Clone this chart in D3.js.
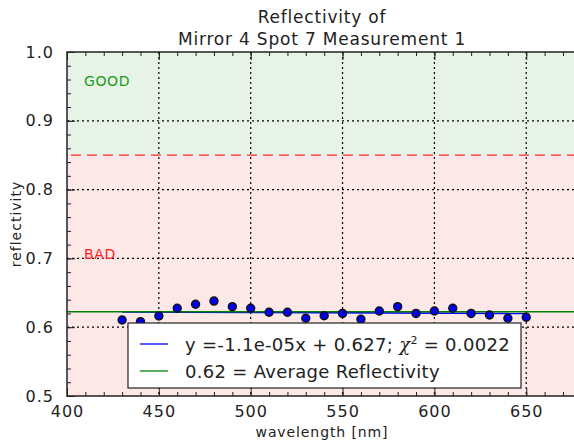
<!DOCTYPE html>
<html>
<head>
<meta charset="utf-8">
<script src="https://cdn.jsdelivr.net/npm/d3@7"></script>
<style>
  body { margin: 0; background: #fff; }
  svg text { font-family: "DejaVu Sans", sans-serif; fill: #222; }
</style>
</head>
<body>
<svg id="chart" width="574" height="441"></svg>
<script>
// measured reflectivity, one point every 10 nm
var wavelengths = [430, 440, 450, 460, 470, 480, 490, 500, 510, 520, 530, 540,
                   550, 560, 570, 580, 590, 600, 610, 620, 630, 640, 650];
var reflectivity = [0.6105, 0.608, 0.6163, 0.6275, 0.6333, 0.638, 0.6298, 0.6275,
                    0.6217, 0.6217, 0.613, 0.6167, 0.620, 0.6115, 0.6235, 0.6298,
                    0.620, 0.6235, 0.6275, 0.620, 0.6177, 0.613, 0.6144];
var fitSlope = -1.1e-05;
var fitIntercept = 0.627;
var averageRefl = 0.6224;
var goodThreshold = 0.85;
var xTicks = [400, 450, 500, 550, 600, 650];
var yTicks = [0.5, 0.6, 0.7, 0.8, 0.9, 1.0];

var svg = d3.select('#chart');
var pLeft = 67, pTop = 52, pRight = 574, pBottom = 396;

var x = d3.scaleLinear().domain([400, 676]).range([pLeft, pRight]);
var y = d3.scaleLinear().domain([0.5, 1.0]).range([pBottom, pTop]);

var plot = svg.append('g');

// GOOD / BAD bands
plot.append('rect')
    .attr('x', pLeft).attr('y', y(1.0))
    .attr('width', pRight - pLeft).attr('height', y(goodThreshold) - y(1.0))
    .attr('fill', '#e8f3e8');
plot.append('rect')
    .attr('x', pLeft).attr('y', y(goodThreshold))
    .attr('width', pRight - pLeft).attr('height', y(0.5) - y(goodThreshold))
    .attr('fill', '#fde8e8');

// dotted grid
plot.selectAll('line.gx')
    .data(xTicks.slice(1))
    .enter().append('line')
    .attr('class', 'gx')
    .attr('x1', function(d){return x(d);}).attr('x2', function(d){return x(d);})
    .attr('y1', pTop).attr('y2', pBottom)
    .attr('stroke', '#000').attr('stroke-width', 1.2)
    .attr('stroke-dasharray', '2,3');
plot.selectAll('line.gy')
    .data(yTicks.slice(1, -1))
    .enter().append('line')
    .attr('class', 'gy')
    .attr('x1', pLeft).attr('x2', pRight)
    .attr('y1', function(d){return y(d);}).attr('y2', function(d){return y(d);})
    .attr('stroke', '#000').attr('stroke-width', 1.2)
    .attr('stroke-dasharray', '2,3');

// threshold
plot.append('line')
    .attr('x1', pLeft).attr('x2', pRight)
    .attr('y1', y(goodThreshold)).attr('y2', y(goodThreshold))
    .attr('stroke', '#f52a2a').attr('stroke-width', 1.3)
    .attr('stroke-dasharray', '10,6')
    .attr('stroke-dashoffset', -4);

plot.append('text')
    .attr('x', 84).attr('y', 86)
    .style('font-size', '14px').style('letter-spacing', '0.6px').style('fill', '#1a9a1a')
    .text('GOOD');
plot.append('text')
    .attr('x', 84).attr('y', 259)
    .style('font-size', '14px').style('letter-spacing', '0.6px').style('fill', '#ff2020')
    .text('BAD');

// fit line + average
var fitX = [wavelengths[0], wavelengths[wavelengths.length - 1]];
plot.append('line')
    .attr('x1', x(fitX[0])).attr('x2', x(fitX[1]))
    .attr('y1', y(fitSlope * fitX[0] + fitIntercept))
    .attr('y2', y(fitSlope * fitX[1] + fitIntercept))
    .attr('stroke', '#0000ff').attr('stroke-width', 1.6);
plot.append('line')
    .attr('x1', pLeft).attr('x2', pRight)
    .attr('y1', y(averageRefl)).attr('y2', y(averageRefl))
    .attr('stroke', '#008000').attr('stroke-width', 1.5);

// data points
plot.selectAll('circle.pt')
    .data(d3.zip(wavelengths, reflectivity))
    .enter().append('circle')
    .attr('class', 'pt')
    .attr('cx', function(d){return x(d[0]);})
    .attr('cy', function(d){return y(d[1]);})
    .attr('r', 4)
    .attr('fill', '#0000ee')
    .attr('stroke', '#111').attr('stroke-width', 1.4);

// axes, ticks inward
var xAxis = d3.axisBottom(x).tickValues(d3.range(400, 680, 10))
    .tickSize(-4).tickFormat('');
var xAxisMajor = d3.axisBottom(x).tickValues(xTicks)
    .tickSize(-8).tickPadding(10).tickFormat(d3.format('d'));
var yAxis = d3.axisLeft(y).tickValues(d3.range(0.5, 1.001, 0.02))
    .tickSize(-4).tickFormat('');
var yAxisMajor = d3.axisLeft(y).tickValues(yTicks)
    .tickSize(-8).tickPadding(13).tickFormat(d3.format('.1f'));

function styleAxis(g) {
  g.select('.domain').remove();
  g.selectAll('line').attr('stroke', '#222').attr('stroke-width', 1);
  g.selectAll('text').style('font-size', '16px').style('letter-spacing', '1px')
      .style('fill', '#222')
      .style('font-family', '"DejaVu Sans", sans-serif');
}

svg.append('g').attr('transform', 'translate(0,' + pBottom + ')').call(xAxis).call(styleAxis);
svg.append('g').attr('transform', 'translate(0,' + pBottom + ')').call(xAxisMajor).call(styleAxis);
svg.append('g').attr('transform', 'translate(0,' + pTop + ')')
    .call(d3.axisTop(x).tickValues(d3.range(400, 680, 10)).tickSize(-4).tickFormat('')).call(styleAxis);
svg.append('g').attr('transform', 'translate(0,' + pTop + ')')
    .call(d3.axisTop(x).tickValues(xTicks).tickSize(-8).tickFormat('')).call(styleAxis);
svg.append('g').attr('transform', 'translate(' + pLeft + ',0)').call(yAxis).call(styleAxis);
svg.append('g').attr('transform', 'translate(' + pLeft + ',0)').call(yAxisMajor).call(styleAxis);

// frame
svg.append('path')
    .attr('d', 'M' + pRight + ',' + pTop + 'H' + pLeft + 'V' + pBottom + 'H' + pRight)
    .attr('fill', 'none').attr('stroke', '#222').attr('stroke-width', 1.5);

// legend
var legend = svg.append('g').attr('transform', 'translate(128,323)');
legend.append('rect')
    .attr('width', 393).attr('height', 65)
    .attr('fill', '#fff').attr('stroke', '#222').attr('stroke-width', 1.2);
var legendRows = [
  {color: '#0000ff', y: 21},
  {color: '#008000', y: 48}
];
legend.selectAll('line.lg')
    .data(legendRows)
    .enter().append('line')
    .attr('class', 'lg')
    .attr('x1', 12).attr('x2', 40)
    .attr('y1', function(d){return d.y;}).attr('y2', function(d){return d.y;})
    .attr('stroke', function(d){return d.color;}).attr('stroke-width', 1.3);

var t1 = legend.append('text').attr('x', 57).attr('y', 28)
    .style('font-size', '18px').style('letter-spacing', '0.3px');
t1.append('tspan').text('y =-1.1e-05x + 0.627; ');
t1.append('tspan').style('font-style', 'italic').style('font-family', '"DejaVu Serif", serif').text('\u03c7');
t1.append('tspan').attr('dy', -7).style('font-size', '11px').text('2');
t1.append('tspan').attr('dy', 7).text(' = 0.0022');
legend.append('text').attr('x', 57).attr('y', 55)
    .style('font-size', '18px').style('letter-spacing', '0.3px')
    .text('0.62 = Average Reflectivity');

// titles
svg.append('text').attr('x', 322).attr('y', 23).attr('text-anchor', 'middle')
    .style('font-size', '17px').style('letter-spacing', '0.8px').text('Reflectivity of');
svg.append('text').attr('x', 322).attr('y', 45).attr('text-anchor', 'middle')
    .style('font-size', '17px').style('letter-spacing', '0.8px').text('Mirror 4 Spot 7 Measurement 1');
svg.append('text').attr('x', 322).attr('y', 437).attr('text-anchor', 'middle')
    .style('font-size', '14px').style('letter-spacing', '0.9px').text('wavelength [nm]');
svg.append('text')
    .attr('transform', 'translate(21,' + ((pTop + pBottom) / 2) + ') rotate(-90)')
    .attr('text-anchor', 'middle')
    .style('font-size', '14px').style('letter-spacing', '1px').text('reflectivity');
</script>
</body>
</html>
